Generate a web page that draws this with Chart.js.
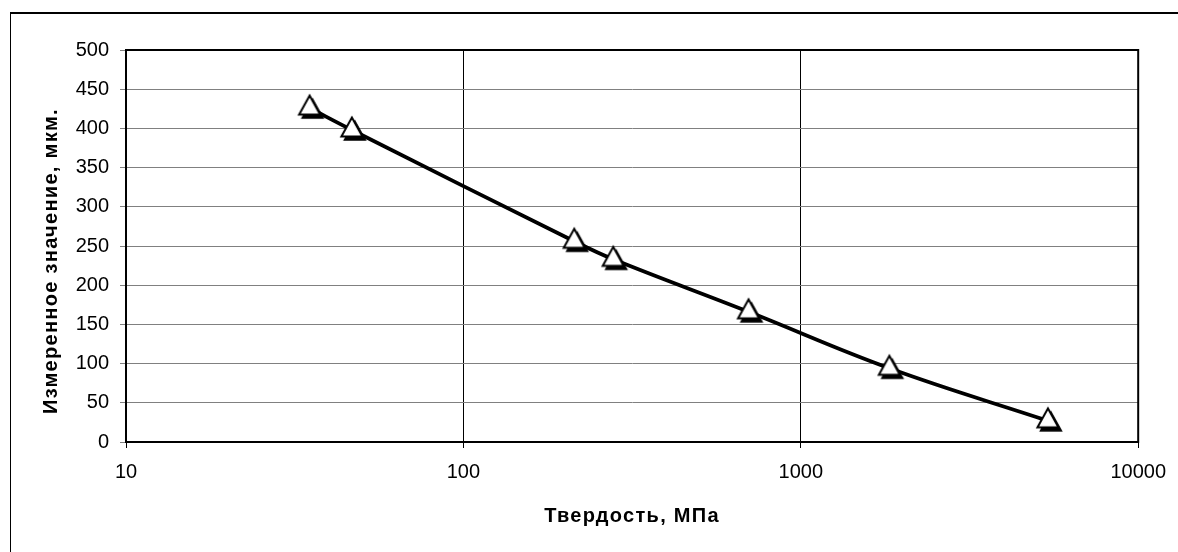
<!DOCTYPE html>
<html>
<head>
<meta charset="utf-8">
<script src="https://cdn.jsdelivr.net/npm/chart.js@4.4.1/dist/chart.umd.min.js"></script>
<style>
  html, body { margin: 0; padding: 0; background: #fff; }
  #frame { position: absolute; left: 10px; top: 12px; width: 1200px; height: 600px;
           border-left: 1px solid #000; border-top: 2px solid #000; box-sizing: border-box; }
  #wrap { position: absolute; left: 0; top: 0; width: 1178px; height: 552px; }
</style>
</head>
<body>
<div id="frame"></div>
<div id="wrap"><canvas id="c" width="1178" height="552"></canvas></div>
<script>
// Data
const hardness = [35, 46.7, 213, 278, 700, 1830, 5400];          // Твердость, МПа
const measured = [426, 398, 256, 233, 166, 94, 27];               // Измеренное значение, мкм.
const xTickValues = [10, 100, 1000, 10000];
const yTickValues = [0, 50, 100, 150, 200, 250, 300, 350, 400, 450, 500];
const xTitle = 'Твердость, МПа';
const yTitle = 'Измеренное значение, мкм.';

const FONT = '"Liberation Sans", Arial, sans-serif';

// marker: white triangle with black outline and a black drop shadow
function makeMarker() {
  const c = document.createElement('canvas');
  c.width = 34; c.height = 34;
  const g = c.getContext('2d');
  const cx = 17, cy = 17;
  function tri(dx, dy) {
    g.beginPath();
    g.moveTo(cx + dx, cy - 12.5 + dy);
    g.lineTo(cx + 10.5 + dx, cy + 6.5 + dy);
    g.lineTo(cx - 10.5 + dx, cy + 6.5 + dy);
    g.closePath();
  }
  tri(3, 3.5);
  g.fillStyle = '#000';
  g.fill();
  g.lineWidth = 1.5;
  g.strokeStyle = '#000';
  g.stroke();
  tri(0, 0);
  g.fillStyle = '#fff';
  g.fill();
  g.lineWidth = 2;
  g.strokeStyle = '#000';
  g.lineJoin = 'miter';
  g.stroke();
  return c;
}

const framePlugin = {
  id: 'plotFrame',
  beforeDraw(chart) {
    // spaced-out axis titles, as in the reference
    ['x', 'y'].forEach(id => {
      const s = chart.scales[id];
      if (s && !s._patched) {
        const orig = Object.getPrototypeOf(s).drawTitle;
        s.drawTitle = function () {
          const ctx = this.ctx;
          ctx.save();
          ctx.letterSpacing = '1.3px';
          if (id === 'y') ctx.translate(0, 15);
          orig.call(this);
          ctx.restore();
        };
        s._patched = true;
      }
    });
  },
  beforeDatasetsDraw(chart) {
    const a = chart.chartArea, ctx = chart.ctx;
    ctx.save();
    ctx.strokeStyle = '#000';
    ctx.lineWidth = 2;
    ctx.strokeRect(a.left, a.top, a.right - a.left, a.bottom - a.top);
    ctx.restore();
  }
};

new Chart(document.getElementById('c'), {
  type: 'line',
  data: {
    datasets: [{
      data: hardness.map((x, i) => ({ x: x, y: measured[i] })),
      borderColor: '#000',
      borderWidth: 3.8,
      tension: 0.4,
      fill: false,
      pointStyle: makeMarker(),
      pointRadius: 12,
      pointHoverRadius: 12
    }]
  },
  options: {
    responsive: false,
    animation: false,
    events: [],
    layout: { padding: { top: 50, right: 39, left: 0, bottom: 0 } },
    plugins: { legend: { display: false }, tooltip: { enabled: false } },
    scales: {
      x: {
        type: 'logarithmic',
        min: 10, max: 10000,
        afterBuildTicks(s) { s.ticks = xTickValues.map(v => ({ value: v })); },
        afterFit(s) { s.height = 110; },
        ticks: {
          color: '#000', padding: 12, maxRotation: 0, autoSkip: false,
          font: { family: FONT, size: 20 },
          callback: v => String(v)
        },
        grid: { color: '#000', lineWidth: 1, tickLength: 6, drawTicks: true },
        border: { color: '#000', width: 2 },
        title: {
          display: true, text: xTitle, color: '#000',
          font: { family: FONT, size: 20, weight: 'bold' },
          padding: { top: 0, bottom: 24 }
        }
      },
      y: {
        min: 0, max: 500,
        afterBuildTicks(s) { s.ticks = yTickValues.map(v => ({ value: v })); },
        afterFit(s) { s.width = 126; },
        ticks: {
          color: '#000', padding: 11,
          font: { family: FONT, size: 20 }
        },
        grid: { color: '#808080', lineWidth: 1, tickLength: 6 },
        border: { color: '#000', width: 2 },
        title: {
          display: true, text: yTitle, color: '#000',
          font: { family: FONT, size: 20, weight: 'bold' },
          padding: { top: 39, bottom: 0 }
        }
      }
    }
  },
  plugins: [framePlugin]
});
</script>
</body>
</html>
